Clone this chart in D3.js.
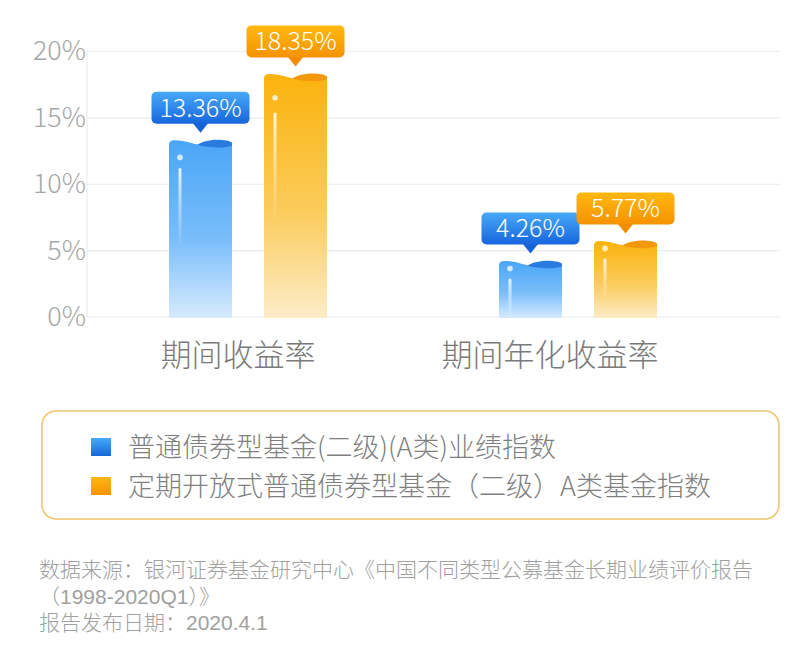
<!DOCTYPE html>
<html>
<head>
<meta charset="utf-8">
<script src="https://cdn.jsdelivr.net/npm/d3@7"></script>
<style>
  html, body { margin: 0; padding: 0; background: #fff; }
  svg { display: block; font-family: "Noto Sans CJK SC", "Noto Sans", sans-serif; font-weight: 300; }
</style>
</head>
<body>
<div id="chart"></div>
<script>
// chart data
var categories = ["期间收益率", "期间年化收益率"];
var seriesNames = ["普通债券型基金(二级)(A类)业绩指数", "定期开放式普通债券型基金（二级）A类基金指数"];
var blueValues = [13.36, 4.26];
var orangeValues = [18.35, 5.77];
var yTicks = [0, 5, 10, 15, 20];
var footnotes = [
    "数据来源：银河证券基金研究中心《中国不同类型公募基金长期业绩评价报告",
    "（1998-2020Q1）》",
    "报告发布日期：2020.4.1"
];

var width = 810, height = 654;

var svg = d3.select("#chart")
    .append("svg")
    .attr("width", width)
    .attr("height", height);

var defs = svg.append("defs");

// gradients for bars, callouts, legend swatches
function vGrad(id, stops) {
    var g = defs.append("linearGradient").attr("id", id)
        .attr("x1", 0).attr("y1", 0).attr("x2", 0).attr("y2", 1);
    stops.forEach(function(s) {
        g.append("stop").attr("offset", s[0]).attr("stop-color", s[1])
            .attr("stop-opacity", s.length > 2 ? s[2] : 1);
    });
}
vGrad("barBlue", [[0, "#4aa6f7"], [0.55, "#79bdfa"], [1, "#d6ebfe"]]);
vGrad("barOrange", [[0, "#fbb30c"], [0.55, "#fbcb5a"], [1, "#feecc8"]]);
vGrad("tipBlue", [[0, "#47a9f9"], [1, "#1766dc"]]);
vGrad("tipOrange", [[0, "#ffb810"], [1, "#f59300"]]);
vGrad("shine", [[0, "#ffffff", 0.85], [1, "#ffffff", 0]]);

var series = [
    { key: "blue", name: seriesNames[0], values: blueValues, fill: "url(#barBlue)", cap: "#2a7be0", tip: "url(#tipBlue)", tipDark: "#1762d6" },
    { key: "orange", name: seriesNames[1], values: orangeValues, fill: "url(#barOrange)", cap: "#f3980a", tip: "url(#tipOrange)", tipDark: "#f08c00" }
];

// scales
var y = d3.scaleLinear().domain([0, 20]).range([317, 51.5]);
var x0 = d3.scaleBand().domain(categories).range([83, 743]);
var x1 = d3.scaleBand().domain(series.map(function(s) { return s.key; }))
    .range([-79, 79]).paddingInner(32 / 95);

// gridlines + axis
var axisX = 87, gridRight = 780;
svg.append("g").selectAll("line")
    .data(yTicks)
    .enter().append("line")
    .attr("x1", axisX).attr("x2", gridRight)
    .attr("y1", function(d) { return y(d); })
    .attr("y2", function(d) { return y(d); })
    .attr("stroke", "#ececec")
    .attr("stroke-width", 1.2);

svg.append("line")
    .attr("x1", axisX).attr("x2", axisX)
    .attr("y1", y(20)).attr("y2", y(0))
    .attr("stroke", "#ececec")
    .attr("stroke-width", 1.2);

svg.append("g").selectAll("text")
    .data(yTicks)
    .enter().append("text")
    .attr("x", 86)
    .attr("y", function(d) { return y(d); })
    .attr("dy", "0.33em")
    .attr("text-anchor", "end")
    .attr("font-size", 27)
    .attr("fill", "#a6a6a6")
    .text(function(d) { return d + "%"; });

// category labels (slightly left of the group centre in the original)
var labelShift = [-10, -28];
svg.append("g").selectAll("text")
    .data(categories)
    .enter().append("text")
    .attr("x", function(d, i) { return x0(d) + x0.bandwidth() / 2 + labelShift[i]; })
    .attr("y", 366)
    .attr("text-anchor", "middle")
    .attr("font-size", 31)
    .attr("fill", "#7a7a7a")
    .text(function(d) { return d; });

// bars
var bw = x1.bandwidth();
var items = [];
series.forEach(function(s) {
    s.values.forEach(function(v, i) {
        items.push({ s: s, v: v, x: x0(categories[i]) + x0.bandwidth() / 2 + x1(s.key) });
    });
});

var bars = svg.append("g").selectAll("g")
    .data(items)
    .enter().append("g");

function bodyPath(d) {
    var x = d.x, t = y(d.v), b = y(0) + 1, w = bw;
    return "M" + x + "," + b +
        "V" + (t + 5) +
        "Q" + x + "," + (t + 0.5) + " " + (x + 5) + "," + (t + 0.5) +
        "C" + (x + w * 0.3) + "," + (t + 0.5) + " " + (x + w * 0.38) + "," + (t + 5) + " " + (x + w * 0.5) + "," + (t + 5) +
        "L" + (x + w) + "," + (t + 5) +
        "V" + b + "Z";
}

bars.append("path")
    .attr("d", bodyPath)
    .attr("fill", function(d) { return d.s.fill; });

// darker curled cap on the right half of the top
bars.append("path")
    .attr("d", function(d) {
        var x = d.x, t = y(d.v), w = bw;
        return "M" + (x + w * 0.45) + "," + (t + 5) +
            "C" + (x + w * 0.6) + "," + (t - 1) + " " + (x + w * 0.9) + "," + (t - 1) + " " + (x + w) + "," + (t + 3) +
            "L" + (x + w) + "," + (t + 6) +
            "C" + (x + w * 0.85) + "," + (t + 9) + " " + (x + w * 0.6) + "," + (t + 8) + " " + (x + w * 0.45) + "," + (t + 5) + "Z";
    })
    .attr("fill", function(d) { return d.s.cap; });

// shine dot + line
bars.append("circle")
    .attr("cx", function(d) { return d.x + 11; })
    .attr("cy", function(d) { var h = y(0) - y(d.v); return y(d.v) + Math.max(8, h * 0.1); })
    .attr("r", 2.8)
    .attr("fill", "#ffffff")
    .attr("opacity", 0.75);

bars.append("rect")
    .attr("x", function(d) { return d.x + 9.5; })
    .attr("y", function(d) { var h = y(0) - y(d.v); return y(d.v) + Math.max(18, h * 0.16); })
    .attr("width", 3)
    .attr("height", function(d) { var h = y(0) - y(d.v); return Math.max(40, h * 0.45); })
    .attr("rx", 1.5)
    .attr("fill", "url(#shine)");

// value callouts
var boxW = 98, boxH = 32, tipH = 9, gap = 7;
var tips = svg.append("g").selectAll("g")
    .data(items)
    .enter().append("g")
    .attr("transform", function(d) {
        return "translate(" + (d.x + bw / 2) + "," + (y(d.v) - gap) + ")";
    });

tips.append("path")
    .attr("d", "M-8," + (-tipH - 1) + "L0,0L8," + (-tipH - 1) + "Z")
    .attr("fill", function(d) { return d.s.tipDark; });

tips.append("rect")
    .attr("x", -boxW / 2)
    .attr("y", -tipH - boxH)
    .attr("width", boxW)
    .attr("height", boxH)
    .attr("rx", 5)
    .attr("fill", function(d) { return d.s.tip; });

tips.append("text")
    .attr("x", 0)
    .attr("y", -tipH - boxH / 2)
    .attr("dy", "0.36em")
    .attr("text-anchor", "middle")
    .attr("font-size", 25)
    .attr("fill", "#ffffff")
    .text(function(d) { return d.v.toFixed(2) + "%"; });

// legend
svg.append("rect")
    .attr("x", 42).attr("y", 411)
    .attr("width", 737).attr("height", 108)
    .attr("rx", 14)
    .attr("fill", "#fff")
    .attr("stroke", "#f0c46a")
    .attr("stroke-width", 1.5);

var legend = svg.selectAll(".legend")
    .data(series)
    .enter().append("g")
    .attr("class", "legend")
    .attr("transform", function(d, i) { return "translate(91," + (438 + i * 39) + ")"; });

legend.append("rect")
    .attr("width", 20)
    .attr("height", 18)
    .attr("fill", function(d) { return d.tip; });

legend.append("text")
    .attr("x", 37)
    .attr("y", 9)
    .attr("dy", "0.36em")
    .attr("font-size", 27)
    .attr("fill", "#808080")
    .text(function(d) { return d.name; });

// source note, one text block with a line per entry
svg.append("text")
    .attr("font-size", 21)
    .attr("font-family", "'Liberation Sans', 'Noto Sans CJK SC', sans-serif")
    .attr("fill", "#a0a0a0")
    .selectAll("tspan")
    .data(footnotes)
    .enter().append("tspan")
    .attr("x", 39)
    .attr("y", function(d, i) { return 577 + i * 26.5; })
    .text(function(d) { return d; });
</script>
</body>
</html>
